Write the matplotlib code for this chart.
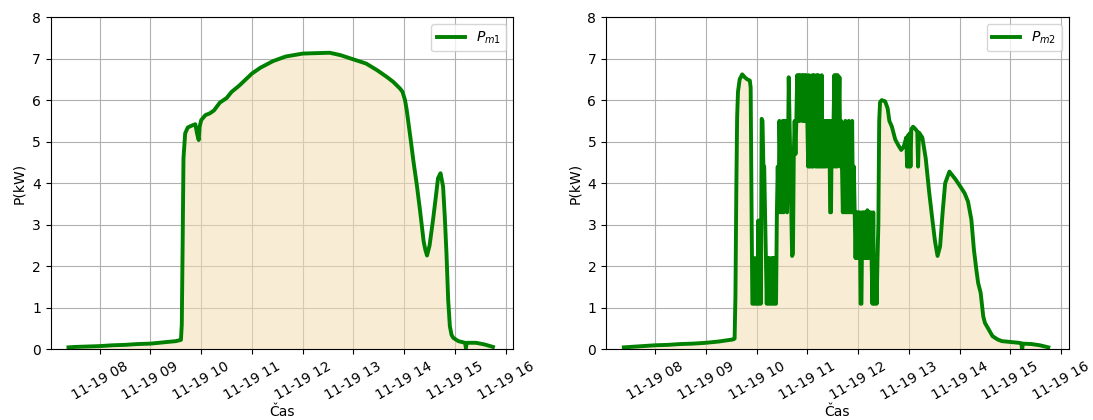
import numpy as np
import matplotlib
matplotlib.use("Agg")
import matplotlib.pyplot as plt

day = "2020-11-19"

# P_m1: smooth string output
t1 = ["07:23", "07:30", "07:45", "08:00", "08:15", "08:30", "08:45", "09:00", "09:15", "09:30",
      "09:36", "09:37", "09:38", "09:39", "09:41", "09:44", "09:48", "09:53", "09:55", "09:57",
      "09:58", "10:00", "10:05", "10:10", "10:15", "10:22", "10:30", "10:36", "10:45", "11:00",
      "11:10", "11:25", "11:40", "12:00", "12:15", "12:32", "12:45", "13:00", "13:15", "13:28",
      "13:40", "13:47", "13:55", "13:58", "14:01", "14:03", "14:08", "14:11", "14:15", "14:19",
      "14:23", "14:25", "14:27", "14:30", "14:34", "14:37", "14:40", "14:43", "14:46", "14:48",
      "14:50", "14:52", "14:54", "14:56", "14:58", "15:04", "15:12", "15:13", "15:14", "15:25",
      "15:35", "15:45"]
p1 = [0.05, 0.06, 0.07, 0.08, 0.10, 0.11, 0.13, 0.14, 0.17, 0.20,
      0.23, 0.6, 2.5, 4.6, 5.2, 5.34, 5.38, 5.42, 5.2, 5.04,
      5.35, 5.52, 5.64, 5.68, 5.75, 5.94, 6.05, 6.2, 6.35, 6.64,
      6.78, 6.94, 7.05, 7.12, 7.13, 7.14, 7.08, 6.98, 6.88, 6.72,
      6.55, 6.44, 6.28, 6.2, 6.0, 5.76, 5.0, 4.52, 3.95, 3.3,
      2.6, 2.4, 2.26, 2.5, 3.1, 3.6, 4.12, 4.24, 3.92, 3.2,
      2.32, 1.2, 0.56, 0.35, 0.28, 0.2, 0.16, 0.03, 0.16, 0.16,
      0.12, 0.06]

# P_m2: string with shading, switching between levels
t2 = ["07:23", "07:30", "07:45", "08:00", "08:15", "08:30", "08:45", "09:00", "09:15", "09:25",
      "09:32", "09:34", "09:35", "09:36", "09:37", "09:38", "09:40", "09:43", "09:46", "09:49",
      "09:52", "09:53", "09:54", "09:55",
      "09:56", "09:57", "09:58", "09:59", "10:00", "10:01", "10:02", "10:03", "10:04", "10:05",
      "10:06", "10:07", "10:08", "10:09", "10:10", "10:11", "10:12",
      "10:13", "10:14", "10:15", "10:16", "10:17", "10:18", "10:19", "10:20", "10:21", "10:22", "10:23",
      "10:24", "10:25",
      "10:26", "10:27", "10:28", "10:29", "10:30", "10:31", "10:32", "10:33", "10:34", "10:35", "10:36", "10:37",
      "10:38", "10:39", "10:41", "10:42", "10:43", "10:44", "10:45", "10:46", "10:47",
      "10:48", "10:49", "10:50", "10:51", "10:52", "10:53", "10:54", "10:55", "10:56", "10:57", "10:58", "10:59", "11:00",
      "11:01", "11:02", "11:03", "11:04", "11:05", "11:06", "11:07", "11:08", "11:09", "11:10", "11:11", "11:12",
      "11:13", "11:14", "11:15", "11:16", "11:17", "11:18", "11:19", "11:20", "11:21", "11:22", "11:23",
      "11:24", "11:25", "11:26", "11:27", "11:28", "11:29", "11:30", "11:31", "11:32", "11:33", "11:34", "11:35",
      "11:36", "11:37", "11:38", "11:39", "11:40", "11:41",
      "11:42", "11:43", "11:44", "11:45", "11:46", "11:47", "11:48", "11:49", "11:50", "11:51", "11:52", "11:53",
      "11:54", "11:55", "11:56",
      "11:57", "11:58", "11:59", "12:00", "12:01", "12:02", "12:03", "12:04", "12:05", "12:06", "12:07", "12:08",
      "12:09", "12:10", "12:11", "12:12", "12:13", "12:14", "12:15", "12:16", "12:17", "12:18", "12:19", "12:20",
      "12:21", "12:22", "12:23",
      "12:24", "12:25", "12:26", "12:28", "12:32", "12:35", "12:37", "12:40", "12:44", "12:48", "12:51", "12:54",
      "12:57", "12:58", "12:59", "13:00", "13:01", "13:02", "13:03", "13:05", "13:08", "13:10", "13:11", "13:12",
      "13:16", "13:20", "13:24", "13:28", "13:31", "13:34", "13:37", "13:40", "13:43", "13:48", "13:55", "14:00",
      "14:06", "14:10", "14:14", "14:17", "14:20", "14:22", "14:25", "14:28", "14:30", "14:34", "14:39", "14:45",
      "14:50", "15:00", "15:10", "15:13", "15:14", "15:15", "15:25", "15:35", "15:45"]
p2 = [0.05, 0.06, 0.08, 0.10, 0.11, 0.13, 0.14, 0.16, 0.19, 0.22,
      0.24, 0.26, 1.3, 3.8, 5.6, 6.2, 6.5, 6.62, 6.55, 6.5,
      6.47, 6.3, 3.5, 1.1,
      1.1, 2.2, 1.1, 1.1, 2.2, 1.1, 3.1, 1.1, 3.1, 1.1,
      5.55, 5.5, 4.45, 4.4, 3.35, 2.2, 1.1,
      2.2, 1.1, 2.2, 1.1, 1.1, 2.2, 1.1, 2.2, 1.1, 2.2, 1.1,
      3.3, 4.4,
      3.3, 5.5, 4.4, 3.3, 4.4, 5.5, 3.3, 5.5, 4.4, 5.5, 3.3, 4.4,
      6.55, 5.5, 3.3, 2.25, 2.3, 4.7, 5.5, 4.7, 5.5,
      6.6, 5.5, 6.6, 5.5, 6.6, 6.6, 5.5, 6.6, 5.5, 6.6, 5.5, 6.6, 5.5,
      4.4, 6.6, 4.4, 5.5, 4.4, 6.6, 4.4, 6.6, 5.5, 4.4, 6.6, 4.4,
      6.6, 4.4, 5.5, 4.4, 6.6, 4.4, 5.5, 4.4, 5.5, 4.4, 5.5,
      5.5, 4.4, 5.5, 3.3, 3.3, 5.5, 4.4, 5.5, 6.6, 4.4, 6.6, 4.4,
      6.6, 5.5, 6.55, 4.4, 5.5, 4.4,
      3.3, 4.4, 3.3, 5.5, 3.3, 4.4, 3.3, 5.5, 3.3, 4.4, 3.3, 5.5,
      3.3, 4.4, 3.3,
      2.2, 3.3, 2.2, 3.3, 2.2, 3.3, 1.1, 1.1, 3.3, 2.2, 3.3, 2.2,
      3.3, 2.2, 3.35, 2.2, 3.3, 2.2, 3.3, 2.2, 1.1, 3.3, 1.1, 1.1,
      2.2, 1.1, 2.2,
      3.0, 5.5, 5.95, 6.0, 5.97, 5.8, 5.5, 5.36, 5.05, 4.9, 4.8, 4.88,
      5.1, 4.4, 5.15, 4.4, 5.2, 4.4, 5.3, 5.36, 5.3, 5.24, 4.4, 5.22,
      5.1, 4.6, 3.8, 3.1, 2.6, 2.25, 2.48, 3.3, 4.0, 4.28, 4.1, 3.95,
      3.76, 3.56, 3.12, 2.4, 1.9, 1.6, 1.36, 0.8, 0.64, 0.5, 0.32, 0.24,
      0.2, 0.18, 0.16, 0.15, 0.0, 0.14, 0.13, 0.1, 0.05]

series = [(t1, p1, r"$P_{m1}$"), (t2, p2, r"$P_{m2}$")]

fig = plt.figure(figsize=(10.93, 4.2), dpi=100)
axes = [fig.add_axes([0.0464, 0.168, 0.4232, 0.7915]),
        fig.add_axes([0.5545, 0.168, 0.4232, 0.7915])]

xlim = (np.datetime64(day + "T07:02"), np.datetime64(day + "T16:09"))

for ax, (tt, pp, lab) in zip(axes, series):
    x = np.array([day + "T" + s for s in tt], dtype="datetime64[m]")
    ax.plot(x, pp, color="green", linewidth=2.8, label=lab)
    ax.fill_between(x, pp, 0, color="wheat", alpha=0.55, linewidth=0)
    ax.set_xlim(*xlim)
    ax.set_ylim(0, 8)
    ax.grid(True)
    ax.set_axisbelow(True)
    ax.tick_params(axis="x", rotation=30, labelsize=10)
    ax.tick_params(axis="y", labelsize=10)
    ax.set_ylabel("P(kW)", fontsize=10)
    ax.set_xlabel("Čas", fontsize=10, labelpad=2)
    ax.legend(loc="upper right", fontsize=10)

plt.savefig("out.png", dpi=100)
